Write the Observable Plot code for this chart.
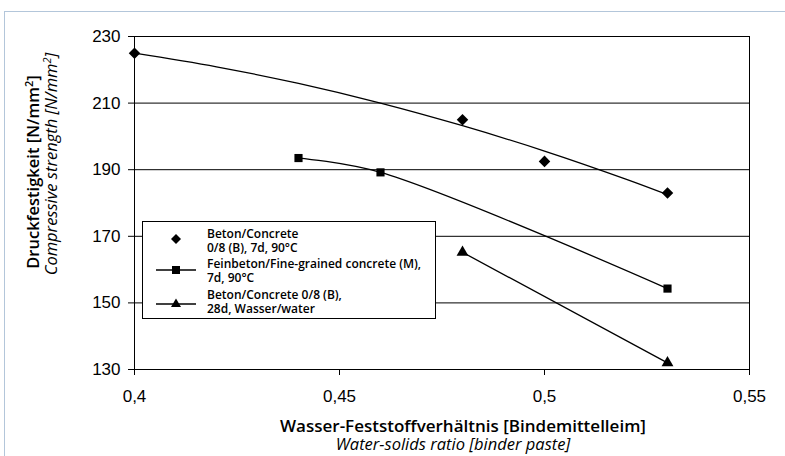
<!DOCTYPE html>
<html><head><meta charset="utf-8">
<script src="https://cdn.jsdelivr.net/npm/d3@7"></script>
<script src="https://cdn.jsdelivr.net/npm/@observablehq/plot@0.6"></script>
<style>
body{margin:0;background:#fff;}
#wrap{position:relative;width:785px;height:456px;overflow:hidden;background:#fff;}
#chart{position:absolute;left:0;top:0;}
#border{position:absolute;left:4px;top:11px;width:800px;height:470px;border:1px solid #b3c6da;box-sizing:border-box;pointer-events:none;}
.ttl{position:absolute;font-family:"Open Sans",Lato,sans-serif;color:#000;white-space:nowrap;font-size:16.5px;line-height:1;}
.ttl sup{font-size:11px;line-height:0;vertical-align:6px;}
.b{font-weight:600;}
.i{font-style:italic;font-weight:400;}
#legend{position:absolute;left:142px;top:221px;width:294px;height:98px;border:1px solid #000;box-sizing:border-box;background:#fff;font-family:"Open Sans",Lato,sans-serif;font-weight:600;font-size:12px;line-height:13px;color:#000;}
.ln{position:absolute;left:64px;white-space:nowrap;height:13px;}
.sym{position:absolute;left:13px;width:40px;height:14px;}
</style></head><body>
<div id="wrap">
  <div id="chart"></div>
  <div id="legend"></div>
  <div class="ttl b" id="xt1" style="left:463px;top:425px;font-size:17px;transform:translate(-50%,-50%);">Wasser-Feststoffverhältnis [Bindemittelleim]</div>
  <div class="ttl i" id="xt2" style="left:453px;top:444px;transform:translate(-50%,-50%);">Water-solids ratio [binder paste]</div>
  <div class="ttl b" id="yt1" style="left:33px;top:172px;transform:translate(-50%,-50%) rotate(-90deg);">Druckfestigkeit [N/mm<sup>2</sup>]</div>
  <div class="ttl i" id="yt2" style="left:51px;top:164px;transform:translate(-50%,-50%) rotate(-90deg);">Compressive strength [N/mm<sup>2</sup>]</div>
  <div id="border"></div>
</div>
<script>
// Axis ticks
const xTicks = [0.4, 0.45, 0.5, 0.55];
const yTicks = [130, 150, 170, 190, 210, 230];

// Series 1: Beton/Concrete 0/8 (B), 7d, 90°C (points + trend curve)
const betonX = [0.40, 0.48, 0.50, 0.53];
const betonY = [225, 205, 192.5, 183];
const betonTrendX = [0.40, 0.42, 0.44, 0.46, 0.48, 0.50, 0.52, 0.53];
const betonTrendY = [225, 220.9, 215.9, 210, 203.2, 195.6, 187.1, 182.5];

// Series 2: Feinbeton/Fine-grained concrete (M), 7d, 90°C
const feinX = [0.44, 0.46, 0.53];
const feinY = [193.5, 189.2, 154.3];

// Series 3: Beton/Concrete 0/8 (B), 28d, Wasser/water
const wasserX = [0.48, 0.53];
const wasserY = [165.2, 132];

const legendLabels = [
  ["Beton/Concrete", "0/8 (B), 7d, 90°C"],
  ["Feinbeton/Fine-grained concrete (M),", "7d, 90°C"],
  ["Beton/Concrete 0/8 (B),", "28d, Wasser/water"]
];

const zip = (xs, ys) => xs.map((x, i) => ({x, y: ys[i]}));
const beton = zip(betonX, betonY);
const betonTrend = zip(betonTrendX, betonTrendY);
const fein = zip(feinX, feinY);
const wasser = zip(wasserX, wasserY);

const plot = Plot.plot({
  width: 785, height: 456,
  marginLeft: 134, marginRight: 36, marginTop: 36, marginBottom: 87,
  style: {fontFamily: "'Liberation Sans', Arial, sans-serif", fontSize: "17px", background: "transparent", color: "#000"},
  x: {domain: [0.4, 0.55], ticks: xTicks, tickFormat: d => String(d).replace(".", ","), label: null, tickSize: 6, tickPadding: 14},
  y: {domain: [130, 230], ticks: yTicks, tickFormat: d => String(d), label: null, tickSize: 6, tickPadding: 8},
  marks: [
    Plot.ruleY(yTicks, {stroke: "#000", strokeWidth: 1}),
    Plot.frame({stroke: "#000", strokeWidth: 1}),
    Plot.line(betonTrend, {x: "x", y: "y", stroke: "#000", strokeWidth: 1.3, curve: "catmull-rom"}),
    Plot.dot(beton, {x: "x", y: "y", symbol: "diamond2", r: 5.2, fill: "#000", stroke: "none"}),
    Plot.line(fein, {x: "x", y: "y", stroke: "#000", strokeWidth: 1.3, curve: "catmull-rom"}),
    Plot.dot(fein, {x: "x", y: "y", symbol: "square", r: 4.6, fill: "#000"}),
    Plot.line(wasser, {x: "x", y: "y", stroke: "#000", strokeWidth: 1.3}),
    Plot.dot(wasser, {x: "x", y: "y", symbol: "triangle", r: 4.4, fill: "#000"})
  ]
});
document.getElementById("chart").appendChild(plot);

// Legend
const symbols = [
  '<svg class="sym" viewBox="0 0 40 14"><path d="M20 2L25 7L20 12L15 7Z" fill="#000"/></svg>',
  '<svg class="sym" viewBox="0 0 40 14"><line x1="0" y1="7" x2="40" y2="7" stroke="#000" stroke-width="1.3"/><rect x="16" y="3" width="8" height="8" fill="#000"/></svg>',
  '<svg class="sym" viewBox="0 0 40 14"><line x1="0" y1="8" x2="40" y2="8" stroke="#000" stroke-width="1.3"/><path d="M20 2.5L25 11L15 11Z" fill="#000"/></svg>'
];
const lineTops = [[5, 19], [35, 49], [66, 80]];
const symTops = [10, 41, 74];
const leg = document.getElementById("legend");
legendLabels.forEach((lines, i) => {
  lines.forEach((txt, j) => {
    const ln = document.createElement("div");
    ln.className = "ln";
    ln.style.top = lineTops[i][j] + "px";
    ln.textContent = txt;
    leg.appendChild(ln);
  });
  const s = document.createElement("div");
  s.innerHTML = symbols[i];
  s.firstChild.style.top = symTops[i] + "px";
  leg.appendChild(s.firstChild);
});
</script>
</body></html>
